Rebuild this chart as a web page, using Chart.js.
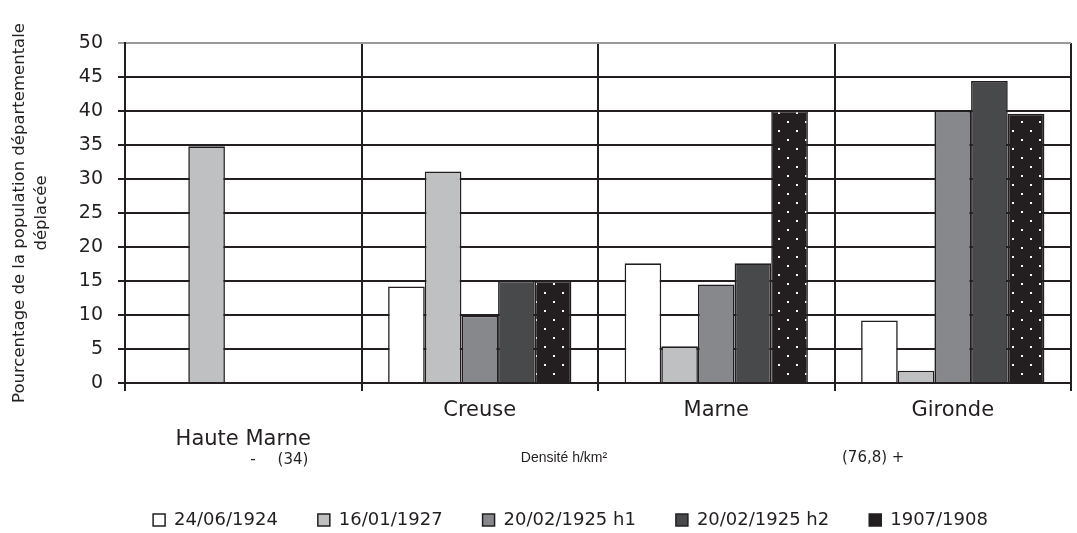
<!DOCTYPE html>
<html>
<head>
<meta charset="utf-8">
<script src="https://cdn.jsdelivr.net/npm/chart.js@4.4.1/dist/chart.umd.min.js"></script>
<style>
  body { margin: 0; background: #fff; }
</style>
</head>
<body>
<canvas id="deplacesChart" width="1077" height="533"></canvas>
<script>
// departements (Haute Marne sits on the second label line)
const categories = [['', 'Haute Marne'], 'Creuse', 'Marne', 'Gironde'];
const seriesNames = ['24/06/1924', '16/01/1927', '20/02/1925 h1', '20/02/1925 h2', '1907/1908'];
const v19240624 = [null, 14.2, 17.6, 9.2];
const v19270116 = [34.8, 31.1, 5.4, 1.8];
const v19250220h1 = [null, 9.9, 14.5, 40.0];
const v19250220h2 = [null, 15.0, 17.6, 44.4];
const v19071908 = [null, 15.0, 40.0, 39.6];
const yTicks = [0, 5, 10, 15, 20, 25, 30, 35, 40, 45, 50];

const ink = '#231f20';

// black fill with white dots for 1907/1908
function dotPattern() {
    const c = document.createElement('canvas');
    c.width = 18;
    c.height = 18;
    const g = c.getContext('2d');
    g.fillStyle = ink;
    g.fillRect(0, 0, 18, 18);
    g.fillStyle = '#ffffff';
    g.fillRect(4, 4, 2, 2);
    g.fillRect(13, 13, 2, 2);
    return g.createPattern(c, 'repeat');
}

Chart.defaults.font.family = 'DejaVu Sans';
Chart.defaults.color = ink;

// small texts under the axis (density scale)
const densityNotes = {
    id: 'densityNotes',
    afterDraw(chart) {
        const ctx = chart.ctx;
        ctx.save();
        ctx.fillStyle = ink;
        ctx.textBaseline = 'middle';
        ctx.textAlign = 'center';
        ctx.font = '15px "DejaVu Sans"';
        ctx.fillText('-', 253, 460);
        ctx.fillText('(34)', 293, 460);
        ctx.textAlign = 'left';
        ctx.fillText('(76,8) +', 842, 458);
        ctx.textAlign = 'center';
        ctx.font = '14px "Liberation Sans"';
        ctx.fillText('Densité h/km²', 564, 458);
        ctx.restore();
    }
};

const ctx = document.getElementById('deplacesChart').getContext('2d');
const chart = new Chart(ctx, {
    type: 'bar',
    data: {
        labels: categories,
        datasets: [
            { label: seriesNames[0], data: v19240624, backgroundColor: '#ffffff' },
            { label: seriesNames[1], data: v19270116, backgroundColor: '#bfc0c2' },
            { label: seriesNames[2], data: v19250220h1, backgroundColor: '#87888b' },
            { label: seriesNames[3], data: v19250220h2, backgroundColor: '#48494b' },
            { label: seriesNames[4], data: v19071908, backgroundColor: dotPattern() }
        ].map(d => Object.assign(d, {
            borderColor: ink,
            borderWidth: 1.6,
            categoryPercentage: 0.775,
            barPercentage: 1.0
        }))
    },
    options: {
        responsive: false,
        animation: false,
        layout: {
            padding: { top: 43, right: 6, bottom: -6, left: 70 }
        },
        scales: {
            x: {
                grid: {
                    offset: true,
                    color: c => c.index === categories.length ? '#9a9a9a' : ink,
                    lineWidth: 2,
                    tickLength: 8
                },
                border: { color: ink, width: 2 },
                ticks: {
                    padding: 5,
                    font: { size: 21, lineHeight: 1.38 },
                    color: ink
                },
                afterFit: s => { s.height = 88; }
            },
            y: {
                min: 0,
                max: 50,
                afterBuildTicks: s => { s.ticks = yTicks.map(v => ({ value: v })); },
                grid: {
                    color: c => c.tick && c.tick.value === 50 ? '#9a9a9a' : ink,
                    lineWidth: 2,
                    tickLength: 7
                },
                border: { color: ink, width: 2 },
                ticks: {
                    padding: 15,
                    font: { size: 19 },
                    color: ink
                },
                title: {
                    display: true,
                    text: ['Pourcentage de la population départementale', 'déplacée'],
                    font: { size: 16.5, lineHeight: 1.333 },
                    color: ink,
                    padding: { top: -61, bottom: 0 }
                },
                afterFit: s => { s.width = 55; }
            }
        },
        plugins: {
            legend: {
                display: true,
                position: 'bottom',
                labels: {
                    boxWidth: 12,
                    boxHeight: 12,
                    padding: 40,
                    font: { size: 18 },
                    color: ink,
                    generateLabels: function(chart) {
                        const items = Chart.defaults.plugins.legend.labels.generateLabels(chart);
                        items.forEach(it => {
                            if (typeof it.fillStyle !== 'string') it.fillStyle = ink;
                            it.lineWidth = 1.5;
                        });
                        return items;
                    }
                }
            },
            tooltip: { enabled: false },
            title: { display: false }
        }
    },
    plugins: [densityNotes]
});
</script>
</body>
</html>
